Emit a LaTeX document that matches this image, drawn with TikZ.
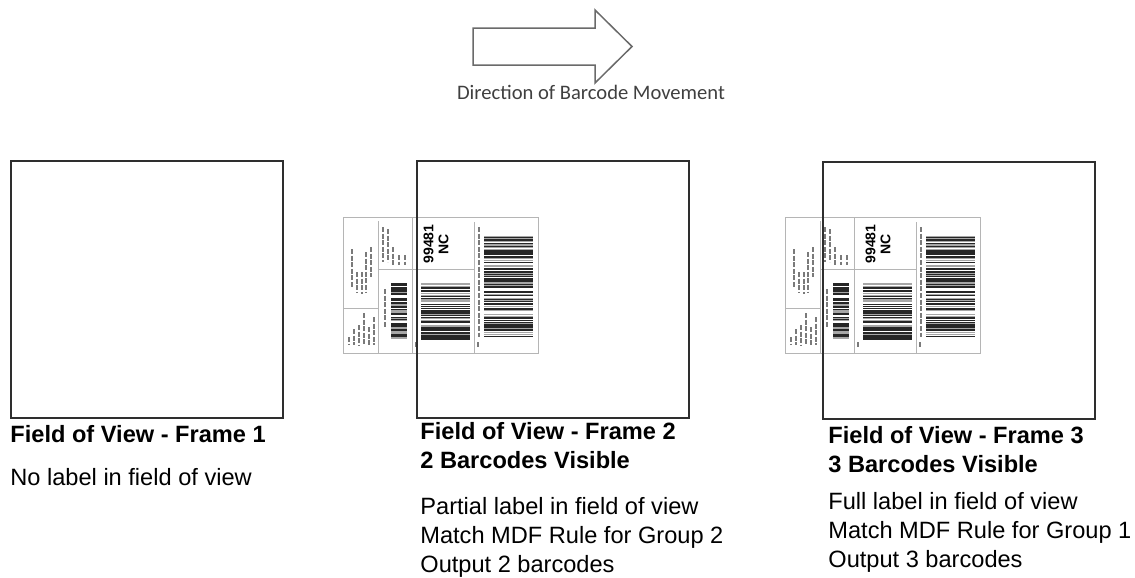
\documentclass[tikz,border=0pt]{standalone}
\usepackage{fontspec}
\setmainfont{Liberation Sans}
\newfontfamily\calibri{Carlito}
\usetikzlibrary{positioning}
\definecolor{framegray}{HTML}{2E2E2E}
\definecolor{arrowgray}{HTML}{6A6A6A}
\definecolor{captiongray}{HTML}{404040}
\definecolor{labelline}{HTML}{B5B5B5}
\definecolor{printgray}{HTML}{7A7A7A}
\newcommand{\fovbox}[3]{%
  \node[draw=framegray, line width=1pt, minimum width=136pt,
        minimum height=128.5pt, inner sep=0pt] (#1) at (#2,#3) {};}
\newcommand{\barstack}[4]{%
  \foreach \yy in {#3,...,#4} {%
    \pgfmathrandominteger{\barbit}{0}{3}%
    \ifcase\barbit\or
      \fill[black!35] (#1,\yy) rectangle (#2,\yy+1);\or
      \fill[black!85] (#1,\yy) rectangle (#2,\yy+1);\or
      \fill[black!85] (#1,\yy) rectangle (#2,\yy+1);\fi}}
\newcommand{\shiplabel}[3]{%
  \begin{scope}[shift={(#2,#3)}]
    \pgfmathsetseed{11}
    \draw[labelline, line width=0.4pt] (0,0) rectangle (195,136);
    \draw[labelline, line width=0.4pt] (35,4) -- (35,136) (0,91) -- (35,91)
      (69,0) -- (69,136) (35,52) -- (131,52) (131,5) -- (131,136);
    \foreach \xx/\ya/\yb in {9/32/70, 14/55/75, 19/55/77, 23/35/75, 28/30/60,
        6/120/128, 11/112/128, 16/108/128, 21/96/128, 26/110/128, 31/100/128,
        40/10/45, 45/12/45, 50/30/48, 56/38/48, 62/38/48, 42/72/110,
        136/10/120, 73/125/130, 135/125/130}
      \draw[printgray, line width=0.9pt, dash pattern=on 2.5pt off 0.8pt]
        (\xx,\ya) -- (\xx,\yb);
    \node[rotate=90, align=center, inner sep=0pt,
          font=\fontsize{7}{7.5}\selectfont\bfseries] (#1nc) at (93,27) {99481\\NC};
    \barstack{48}{64}{66}{123}
    \barstack{78}{127}{66}{122}
    \barstack{141}{190}{19}{119}
  \end{scope}}
\tikzset{
  fovtext/.style={anchor=base west, inner sep=0pt, align=left},
  fovtitle/.style={fovtext, font=\fontsize{11.8}{14.5}\selectfont\bfseries}
}

\begin{document}
\begin{tikzpicture}[x=0.5pt, y=-0.5pt, font=\fontsize{11.8}{14.5}\selectfont]
  \useasboundingbox (0,0) rectangle (1135,578);
  \draw[arrowgray, line width=0.75pt] (473,28) -- (595,28) -- (595,10)
    -- (632,46.5) -- (595,83) -- (595,65) -- (473,65) -- cycle;
  \node[anchor=base, inner sep=0pt, text=captiongray,
        font=\calibri\fontsize{10.3}{12}\selectfont] (dirtext) at (591,99)
    {Direction of Barcode Movement};
  \shiplabel{l2}{343}{217}
  \shiplabel{l3}{785}{217}
  \fovbox{f1}{147}{289.5}
  \fovbox{f2}{552.5}{289}
  \fovbox{f3}{959}{290}
  \node[fovtitle] (t1) at (10,442) {Field of View - Frame 1};
  \node[fovtext] (n1) at (10,485) {No label in field of view};
  \node[fovtitle] (t2) at (420,468) {Field of View - Frame 2\\2 Barcodes Visible};
  \node[fovtext] (n2) at (420,572) {Partial label in field of view\\
    Match MDF Rule for Group 2\\Output 2 barcodes};
  \node[fovtitle] (t3) at (828,472) {Field of View - Frame 3\\3 Barcodes Visible};
  \node[fovtext] (n3) at (828,567) {Full label in field of view\\
    Match MDF Rule for Group 1\\Output 3 barcodes};
\end{tikzpicture}
\end{document}
